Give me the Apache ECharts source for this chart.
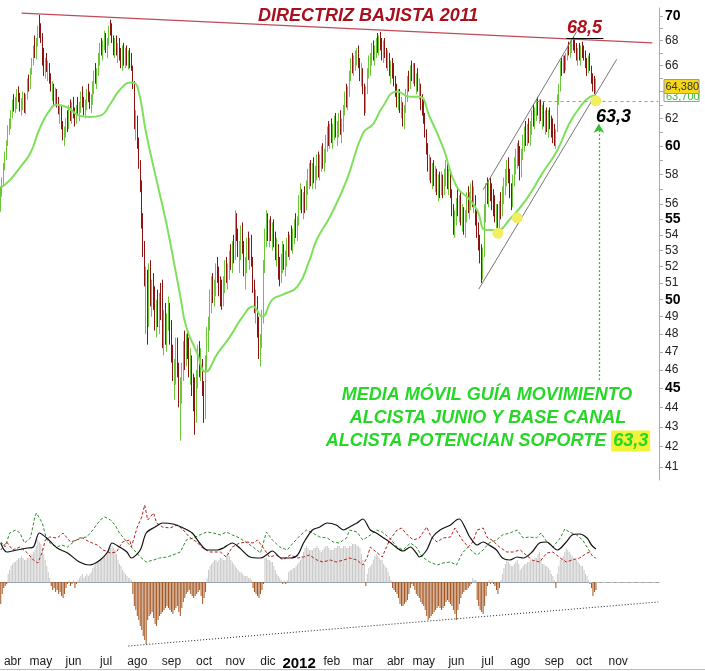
<!DOCTYPE html>
<html>
<head>
<meta charset="utf-8">
<title>Directriz bajista 2011</title>
<script src="https://cdn.jsdelivr.net/npm/echarts@6.0.0/dist/echarts.min.js"></script>
<style>
html,body{margin:0;padding:0;background:#ffffff;}
#chart{width:705px;height:671px;}
</style>
</head>
<body>
<div id="chart"></div>
<script>
// ---------- calendar (trading days) ----------
const firstDay = [2011, 2, 22];           // 22 mar 2011
const lastLabelDay = '2012-11-30';        // last month label shown: nov 2012
const holidays = ['2011-04-22','2011-04-25','2011-12-26','2012-04-06','2012-04-09','2012-05-01'];
const categoryCount = 444;
const monthNames = ['ene','feb','mar','abr','may','jun','jul','ago','sep','oct','nov','dic'];

// ---------- price axis ticks ----------
const yTickValues = [41,42,43,44,45,46,47,48,49,50,51,52,53,54,55,56,57,58,59,60,61,62,63,64,65,66,67,68,69,70];
const yLabelValues = [41,42,43,44,45,46,47,48,49,50,51,52,53,54,55,56,58,60,62,64,66,68,70];
const yBoldValues = [45,50,55,60,70];

// ---------- daily prices ----------
const firstOpen = 55.6;
const lows = [
 55.5,56.5,57.2,58.3,59.0,60.0,60.8,61.2,62.0,62.5,62.4,62.7,63.2,62.5,62.2,62.6,62.4,62.3,63.4,64.0,64.2,65.3,66.0,66.6,66.5,67.5,68.2,
 67.8,66.0,65.2,65.0,65.5,64.8,64.6,64.0,63.3,63.0,62.9,62.8,62.3,61.6,61.2,60.4,60.0,60.6,61.0,61.2,61.8,61.6,
 62.0,61.4,61.6,62.2,61.8,62.4,62.8,62.2,62.0,62.6,63.2,62.7,62.4,63.0,63.8,64.6,64.2,65.2,66.0,66.8,66.4,67.2,
 67.0,66.6,67.6,68.4,67.8,66.8,66.6,66.8,66.2,66.4,65.8,65.6,66.0,65.8,66.0,65.7,65.8,65.6,64.2,61.2,60.4,
 59.8,58.4,56.8,54.4,52.6,50.8,48.0,47.4,48.4,49.6,49.0,49.4,48.2,47.8,48.4,48.0,48.8,47.2,46.8,47.4,47.0,48.2,47.4,
 46.4,45.4,44.4,45.2,45.6,44.0,42.3,44.2,45.4,46.0,46.2,46.6,45.6,45.2,44.6,43.8,42.6,43.2,45.0,45.6,45.4,44.6,
 43.2,43.4,46.0,47.0,48.2,49.2,49.8,49.6,50.2,51.0,50.2,49.6,49.4,49.6,50.4,51.0,50.6,51.2,51.8,51.6,52.2,
 52.4,53.6,52.6,51.6,52.4,52.8,51.4,50.6,51.6,52.4,51.8,52.0,50.4,49.2,48.6,47.8,46.6,46.2,47.2,48.6,51.6,53.2,
 53.6,53.2,53.6,53.0,53.2,52.4,52.0,51.2,50.8,51.0,51.6,51.8,51.4,52.0,52.6,52.4,53.0,52.8,53.4,53.8,53.6,
 54.6,55.6,55.4,55.0,55.4,55.6,56.6,57.0,57.2,57.0,57.4,57.0,57.6,57.8,57.6,58.2,58.4,58.2,58.8,59.6,60.0,59.8,
 60.2,59.8,60.4,60.6,60.0,60.6,60.8,60.2,61.0,62.2,62.8,62.6,63.6,64.8,65.4,65.2,65.6,66.0,65.8,64.8,64.4,
 63.8,62.2,62.4,63.8,65.0,65.2,66.0,66.4,66.0,66.6,67.0,66.8,67.2,66.4,66.2,66.6,65.8,65.6,65.2,64.6,65.0,64.4,
 63.6,62.8,62.6,62.4,62.0,61.4,61.2,62.4,63.2,64.0,64.2,64.8,64.6,64.4,63.8,64.0,63.4,62.6,62.2,
 61.6,60.6,59.4,58.2,57.6,57.4,57.0,57.2,56.8,56.6,56.2,56.4,56.6,56.4,56.6,57.2,57.0,56.6,56.4,55.2,54.0,53.8,
 54.6,55.2,54.8,54.6,54.2,54.0,53.8,54.8,55.4,55.0,55.6,55.8,55.4,54.6,53.8,53.0,52.2,51.0,51.2,52.6,54.8,
 56.0,55.8,56.2,55.6,55.2,54.8,54.2,54.2,54.4,55.0,55.2,56.0,56.6,57.2,57.4,56.4,55.6,55.8,57.2,58.0,58.4,58.6,
 57.6,57.8,59.0,59.6,60.0,60.0,60.2,60.0,60.8,61.4,61.2,61.8,62.2,61.6,61.8,61.2,61.4,60.8,61.0,60.6,61.2,60.6,60.2,
 60.0,59.8,61.0,63.0,64.0,65.2,65.4,65.4,65.6,66.4,66.8,66.6,67.0,67.2,67.0,66.4,66.0,66.4,66.0,66.6,
 66.4,65.8,65.2,65.4,65.6,64.6,64.0,63.8,63.9
];
const highs = [
 57.2,57.8,58.8,59.6,60.4,61.5,62.0,62.6,63.4,63.8,63.6,64.2,64.4,63.9,63.5,64.0,63.9,63.8,65.0,65.3,65.8,66.6,67.6,68.4,68.2,69.2,70.1,
 69.4,68.6,67.4,66.6,67.0,66.4,66.2,65.4,64.8,64.6,64.3,64.2,63.6,63.0,62.9,61.8,61.4,62.0,62.6,63.0,63.4,63.2,
 63.6,62.8,63.0,63.6,63.2,64.0,64.4,63.6,63.4,64.2,64.6,64.0,63.8,64.8,65.6,66.2,65.8,67.0,67.8,68.2,68.0,68.8,
 68.6,68.2,69.2,69.7,69.4,68.4,68.2,68.4,67.8,68.2,67.4,67.6,67.8,67.4,67.6,67.2,67.4,67.0,66.0,64.8,62.6,
 62.2,60.6,59.0,57.6,55.4,53.6,52.0,51.8,52.2,52.4,51.2,51.6,50.8,50.0,50.6,50.4,51.0,51.2,49.4,49.8,49.2,50.2,49.8,
 48.8,47.4,46.6,47.8,47.8,46.4,45.6,46.4,47.6,48.2,48.0,48.2,47.8,47.2,46.8,45.8,45.6,46.0,47.4,47.6,47.2,46.6,
 45.4,46.8,48.4,49.0,50.6,51.4,51.6,51.2,52.2,52.6,52.0,51.4,51.2,51.4,52.4,52.6,52.2,53.0,53.4,53.6,54.0,
 55.6,55.4,54.4,53.6,54.6,54.8,53.6,52.6,53.8,54.2,53.8,54.0,52.6,51.2,50.6,50.2,49.0,48.0,49.4,52.4,54.4,55.6,
 55.4,55.0,55.2,54.8,55.0,54.2,53.8,53.4,52.6,52.8,53.6,53.4,53.0,53.8,54.2,54.0,54.6,54.4,55.0,55.4,55.2,
 56.6,57.4,57.0,56.8,57.2,57.6,58.4,58.8,59.0,58.8,59.2,58.6,59.4,59.6,59.4,60.0,60.2,59.8,60.8,61.4,61.8,61.6,
 62.0,61.6,62.2,62.4,61.8,62.4,62.6,62.0,63.0,64.0,64.6,64.4,65.6,66.6,67.0,66.8,67.2,67.4,67.6,66.6,66.2,
 65.8,64.6,64.4,65.8,66.8,67.0,67.8,68.0,67.6,68.2,68.6,68.4,68.7,68.2,68.0,68.2,67.4,67.2,67.0,66.4,66.6,66.2,
 65.2,64.6,64.2,64.2,63.6,63.2,63.0,64.2,65.2,65.6,66.0,66.4,66.2,66.2,65.4,65.8,65.0,64.6,63.8,
 63.4,62.4,61.2,60.2,59.4,59.2,58.8,59.0,58.6,58.4,58.0,58.2,58.2,58.0,58.4,59.0,58.8,58.4,58.2,57.0,56.0,55.6,
 56.4,57.0,56.6,56.8,56.0,55.8,55.6,56.8,57.2,56.8,57.4,57.6,57.2,56.6,55.6,54.8,54.0,53.4,53.2,56.0,57.4,
 57.8,57.6,57.8,57.4,57.0,56.6,56.0,56.0,56.2,56.8,57.2,57.8,58.4,59.0,59.2,58.4,57.4,58.0,59.2,59.8,60.2,60.4,
 60.0,59.8,60.8,61.4,61.8,61.6,62.0,61.8,62.6,63.0,62.8,63.4,63.6,63.4,63.4,63.0,63.2,62.6,62.8,62.6,62.8,62.2,62.0,
 61.6,61.2,63.8,64.6,66.4,66.6,66.8,66.8,67.0,67.6,67.9,68.0,68.2,68.3,68.2,67.8,67.4,67.8,67.6,67.9,
 67.6,67.2,66.6,66.8,67.0,66.0,65.4,65.2,65.0
];
const closes = [
 56.8,57.5,58.6,59.4,60.1,61.2,61.6,62.4,63.1,62.9,63.3,63.9,63.5,62.8,63.2,63.8,62.7,63.6,64.8,64.3,65.6,66.4,67.4,67.0,68.0,69.0,68.6,
 68.2,66.4,65.8,66.3,65.8,66.0,64.9,64.4,64.5,63.4,64.0,63.0,62.6,62.8,61.5,60.8,61.2,61.8,61.4,62.8,62.1,63.0,
 62.4,61.8,62.7,62.5,63.0,63.6,63.1,62.5,63.2,63.9,63.5,62.9,63.6,64.6,65.4,64.9,65.6,66.8,67.5,67.0,67.8,68.4,
 67.3,68.0,69.0,68.8,68.0,67.2,67.9,67.0,67.5,66.6,66.1,67.3,66.3,67.1,66.2,66.9,66.0,65.8,64.6,61.6,62.2,
 60.2,58.8,57.2,55.0,53.2,51.2,51.4,48.2,51.6,50.0,50.8,49.8,49.0,49.6,48.8,50.0,49.2,47.6,49.0,47.8,48.8,49.6,47.8,
 46.8,45.8,46.2,47.4,46.0,44.4,45.2,46.0,47.2,46.6,47.6,47.0,46.2,46.8,45.0,44.2,43.0,45.6,47.0,46.0,46.8,45.0,
 43.6,46.4,48.0,48.6,50.2,51.0,50.2,50.8,51.8,51.2,50.6,50.0,49.8,51.0,52.0,51.4,51.8,52.6,52.2,53.2,52.6,
 55.0,54.0,52.9,53.2,54.2,53.2,51.8,52.2,53.4,52.8,53.4,52.4,50.8,49.6,50.2,48.2,47.0,47.6,49.0,52.0,54.0,54.6,
 54.0,54.6,53.9,54.4,53.5,52.8,53.4,51.6,51.2,52.4,53.2,52.2,52.6,53.4,53.0,53.6,53.4,54.0,54.6,54.2,54.8,
 56.2,56.8,55.8,56.4,55.8,57.2,58.0,58.4,57.6,58.4,57.8,58.2,59.0,58.2,59.0,59.6,58.8,59.4,60.4,61.0,60.4,61.2,
 60.6,61.2,61.8,60.9,61.4,62.0,61.2,61.6,62.6,63.6,63.2,64.0,65.2,66.2,65.8,66.4,66.8,67.0,66.2,65.0,65.8,
 64.2,62.6,64.0,65.4,65.6,66.6,67.4,66.8,67.2,67.8,67.4,68.0,67.6,66.8,67.6,67.0,66.2,66.8,65.6,66.0,65.4,64.8,
 63.9,63.2,63.8,62.8,63.2,61.8,62.6,63.8,64.8,64.4,65.6,65.2,65.8,64.8,65.0,64.4,64.6,63.0,62.5,
 61.9,60.9,59.8,58.6,59.0,57.8,58.4,57.6,58.2,56.9,57.6,56.8,57.8,56.8,58.0,58.6,57.4,58.0,56.8,55.6,54.4,55.2,
 56.0,55.6,56.2,55.0,55.6,54.4,55.2,56.4,55.8,56.4,57.0,56.2,56.8,55.0,54.2,53.4,52.6,51.4,52.8,55.6,57.0,
 56.4,57.2,56.6,56.0,55.6,55.0,55.6,54.6,55.8,55.4,56.8,57.4,58.0,58.6,57.8,56.8,56.0,57.6,58.8,59.4,59.8,59.0,
 58.0,59.4,60.4,61.0,60.4,61.2,60.6,61.4,62.2,61.8,62.4,63.0,62.6,63.0,62.2,62.6,61.8,62.2,61.4,62.2,61.6,61.0,60.6,
 60.4,61.0,63.6,64.2,66.0,65.6,66.4,65.6,66.8,67.4,67.2,67.8,68.0,67.8,67.6,66.8,67.0,66.6,67.4,67.2,
 66.6,66.0,65.4,66.4,65.8,64.9,64.2,64.0,64.38
];

// moving average, read at [day index, price]
const maPoints = [
 [0,57.1],[6,57.6],[13,58.5],[20,59.5],[26,61.2],[33,62.6],[38,63.0],[45,62.8],[53,62.2],[60,62.1],
 [67,62.2],[74,63.1],[80,64.1],[88,64.7],[92,64.4],[98,60.9],[105,57.6],[111,55.0],[115,53.1],[121,50.2],
 [125,48.4],[132,47.0],[138,45.9],[146,46.9],[154,47.8],[163,49.0],[170,49.6],[176,49.0],[183,50.0],[190,50.3],
 [200,50.8],[208,52.4],[213,53.7],[222,55.2],[233,57.6],[244,60.9],[251,61.6],[257,62.8],[267,64.0],[276,63.6],
 [282,63.6],[289,62.1],[298,59.9],[307,57.2],[316,56.3],[321,55.6],[327,54.3],[334,54.3],[343,55.0],[354,56.3],
 [365,58.1],[375,59.7],[383,61.6],[390,62.8],[397,63.6],[401,63.7]
];
const signalPoints = [[335,54.1],[348,55.1],[401,63.3]];
const supportLevel = 63.3;

// ---------- lower panel indicator ----------
const histogram = [
 -11,-6,-3,-2,-1,
 4,6,8,9,10,10,11,12,12,13,12,11,11,12,12,13,14,15,16,18,21,20,19,17,14,11,8,5,2,
 -2,-4,-3,-5,-4,-6,-5,-7,-8,-6,-3,-1,1,-2,-1,1,-3,-1,1,2,
 3,4,2,3,4,3,4,
 5,7,8,9,10,10,11,12,12,13,14,15,16,17,18,17,16,14,11,9,8,6,5,4,3,2,2,1,
 -6,-12,-14,-17,-19,-22,-24,-27,-29,-31,-19,-17,-16,-15,-18,-21,-22,-19,-17,-16,
 -15,-14,-13,-12,-13,-14,-15,-16,-14,-13,-12,-15,-17,-13,-10,-8,-6,-5,-4,-6,
 -7,-8,-7,-6,-5,-4,-7,-11,-8,-5,
 2,6,8,9,10,11,11,10,11,12,12,11,11,13,15,13,11,10,9,8,7,6,5,5,4,3,3,3,2,2,1,
 -3,-5,-6,-7,-8,-6,-4,-1,
 12,12,11,11,10,10,8,6,4,3,2,
 1,-1,1,-1,1,
 5,6,6,7,7,8,9,10,11,13,15,17,18,17,16,16,16,17,17,18,17,16,15,16,17,18,18,17,16,16,16,17,17,18,18,17,17,18,18,17,17,18,
 18,19,19,19,18,18,17,14,11,9,-2,4,
 7,8,9,11,13,14,13,12,11,11,9,8,7,5,3,1,
 -3,-4,-5,-6,-8,-11,-12,-12,-11,-10,-9,-6,-3,-1,
 -2,-4,-6,-7,-8,-10,-11,-12,-14,-17,-19,-18,-17,-16,-15,-14,-13,-12,-13,-14,
 -13,-12,-10,-9,-10,-11,-12,-14,-16,-19,-14,-11,-8,-6,-5,-4,-4,-3,-2,-1,
 2,1,1,
 -9,-12,-14,-15,-16,-12,-7,-2,
 1,-1,1,-1,-2,-4,-6,-3,
 1,4,7,9,11,10,9,8,8,9,10,11,9,6,7,8,9,9,10,10,11,11,11,12,12,14,15,12,9,9,8,8,7,6,4,3,1,-3,
 4,8,11,12,13,15,17,16,15,14,13,12,11,11,10,9,8,8,6,4,3,1,
 -1,-3,-7,-5,-4
];
const adxPoints = [
 [0,19.5],[4,15],[11,16],[18,17],[22,17.5],[26,24.5],[31,22],[38,17],[45,14.5],[53,10],[60,8.5],[67,11],
 [72,15],[75,19.5],[80,17.5],[85,15],[88,12],[94,16],[98,24.5],[104,27.5],[109,29.5],[116,29],[123,27],
 [129,24.5],[134,19.5],[139,16],[146,16],[150,17],[156,19.5],[161,17],[168,12.5],[175,12],[179,13.5],
 [183,15.5],[189,12],[195,12],[200,13.5],[204,19.5],[210,26],[215,27.5],[220,29.5],[226,28.5],[231,26],
 [235,27.5],[240,29.5],[244,31.5],[249,26],[253,24.5],[257,22.5],[262,20],[267,17],[271,15.5],[276,17.5],
 [280,14.5],[282,12.5],[287,16],[291,22.5],[296,26],[303,28.5],[307,31],[309,31.5],[313,27],[316,22.5],
 [321,18.5],[325,20],[329,18.5],[334,16],[338,12],[343,11],[348,12.5],[352,12],[358,15],[363,19.5],
 [368,20],[372,17.5],[375,16],[381,20],[385,23.5],[390,24],[395,22],[398,18.5],[401,16.5]
];
const diPlusPoints = [
 [0,20],[3,17.5],[6,24.5],[10,26],[13,24.5],[16,19.5],[20,22],[23,32.5],[24,34.5],[28,29.5],[31,21],
 [35,18.5],[38,17.5],[41,18.5],[45,17.5],[49,20],[53,22],[58,22.5],[62,26],[67,31],[70,32.5],[74,31],
 [77,28.5],[80,24.5],[85,20],[88,17.5],[94,12.5],[98,10],[103,11],[107,12],[112,12.5],[116,13.5],
 [121,15],[125,21],[130,22],[134,23.5],[139,25],[143,24.5],[148,23.5],[152,25],[156,23.5],[161,22],
 [166,19.5],[170,17.5],[175,14.5],[179,25],[183,21],[188,17.5],[193,16],[197,19.5],[202,23.5],[206,26],
 [210,24.5],[215,22.5],[220,22],[224,20],[228,19.5],[233,22],[235,26],[240,25],[244,21],[249,23.5],
 [253,26],[257,25],[262,22],[267,17.5],[271,16],[276,19.5],[280,17.5],[284,12.5],[289,10],[294,8.5],
 [298,9.5],[303,10],[307,8.5],[311,14.5],[315,17.5],[318,15],[321,13.5],[325,16],[329,19.5],[334,21],
 [338,23.5],[343,24.5],[348,26],[352,22],[356,22.5],[361,22],[364,24.5],[368,20],[372,17.5],[377,22],
 [380,26.5],[383,25],[388,23.5],[392,21],[395,17.5],[399,12.5],[401,12]
];
const diMinusPoints = [
 [0,16],[4,20],[8,16],[13,17.5],[18,14.5],[22,11],[25,9.5],[28,15],[30,21],[33,22.5],[38,22],[42,24.5],
 [47,20],[51,21],[55,22],[60,20],[65,18.5],[69,16],[74,14.5],[78,15],[82,20],[87,21],[88,17.5],[92,27.5],
 [95,32.5],[97,38.5],[99,31],[103,34.5],[105,29.5],[109,27.5],[114,27],[119,28.5],[123,26],[127,22.5],
 [132,20],[136,17],[141,15],[148,15],[152,12.5],[156,17.5],[161,19.5],[166,20],[170,19.5],[173,21],
 [177,17],[181,12.5],[186,13.5],[190,11],[195,13.5],[200,12],[204,12.5],[208,13.5],[213,11],[217,10],
 [222,11],[226,10],[231,11],[235,12],[240,11],[244,8.5],[247,12.5],[249,17.5],[253,15],[257,12.5],
 [262,21],[267,26],[270,27],[274,23.5],[278,21],[282,22],[287,27.5],[290,22.5],[294,20],[298,22],
 [303,22.5],[306,27],[308,24.5],[311,21],[315,17.5],[318,20],[321,26],[325,27],[328,22],[331,21],
 [336,17.5],[341,15],[345,15],[350,16],[354,13.5],[358,11],[363,10],[368,14.5],[372,15],[377,12],
 [381,10],[385,11],[390,12],[395,14.5],[398,15]
];

// ---------- build ----------
function buildDates() {
  const out = [];
  const d = new Date(Date.UTC(firstDay[0], firstDay[1], firstDay[2]));
  while (out.length < categoryCount) {
    const wd = d.getUTCDay();
    const s = d.toISOString().slice(0, 10);
    if (wd !== 0 && wd !== 6 && holidays.indexOf(s) < 0) out.push(s);
    d.setUTCDate(d.getUTCDate() + 1);
  }
  return out;
}
const dates = buildDates();
const monthStart = dates.map((s, i) => i > 0 && s.slice(5, 7) !== dates[i - 1].slice(5, 7) && s <= lastLabelDay);
const candles = closes.map((c, i) => [i === 0 ? firstOpen : closes[i - 1], c, lows[i], highs[i]]);
const lastIndex = closes.length - 1;
const FONT = '"Liberation Sans", Arial, sans-serif';

const chart = echarts.init(document.getElementById('chart'), null, { renderer: 'canvas' });

const option = {
  animation: false,
  backgroundColor: '#ffffff',
  grid: [
    { left: 0, top: 8, width: 659, height: 472 },
    { left: 0, top: 490, width: 659, height: 160 }
  ],
  xAxis: [
    { type: 'category', gridIndex: 0, data: dates, boundaryGap: true, show: false },
    {
      type: 'category', gridIndex: 1, data: dates, boundaryGap: true,
      axisLine: { lineStyle: { color: '#9aa5b0', width: 1 } },
      axisTick: { inside: true, length: 4, alignWithLabel: true, interval: (i) => monthStart[i], lineStyle: { color: '#9aa5b0' } },
      axisLabel: {
        interval: (i) => monthStart[i],
        margin: 6, color: '#1a1a1a', fontSize: 12, fontFamily: FONT,
        formatter: (v) => {
          const m = parseInt(v.slice(5, 7), 10) - 1;
          return m === 0 ? '{y|' + v.slice(0, 4) + '}' : monthNames[m];
        },
        rich: { y: { fontWeight: 'bold', fontSize: 15, fontFamily: FONT, color: '#000' } }
      },
      splitLine: { show: false }
    }
  ],
  yAxis: [
    {
      type: 'log', gridIndex: 0, position: 'right', logBase: 10,
      min: 40.37, max: 70.67,
      axisLine: { show: true, lineStyle: { color: '#a4acb4' } },
      axisTick: { show: true, length: 4, customValues: yTickValues, lineStyle: { color: '#a4acb4' } },
      axisLabel: {
        customValues: yLabelValues, margin: 6, color: '#222', fontSize: 12, fontFamily: FONT,
        formatter: (v) => {
          const n = Math.round(v);
          return yBoldValues.indexOf(n) >= 0 ? '{b|' + n + '}' : String(n);
        },
        rich: { b: { fontWeight: 'bold', fontSize: 14, fontFamily: FONT, color: '#000' } }
      },
      splitLine: { show: false }
    },
    { type: 'value', gridIndex: 1, min: -34, max: 46, show: false, splitLine: { show: false } }
  ],
  series: [
    {
      type: 'candlestick', name: 'precio', xAxisIndex: 0, yAxisIndex: 0,
      data: candles, barWidth: 1,
      itemStyle: { color: '#6cc63a', color0: '#8c1410', borderColor: '#6cc63a', borderColor0: '#8c1410', borderWidth: 1 },
      markLine: {
        silent: true, symbol: 'none', label: { show: false },
        data: [
          [{ coord: [14, 70.25], lineStyle: { color: '#c04a58', width: 1.3, type: 'solid' } }, { coord: [439, 67.8] }],
          [{ coord: [325, 56.96], lineStyle: { color: '#777', width: 1, type: 'solid' } }, { coord: [388, 68.72] }],
          [{ coord: [322, 50.62], lineStyle: { color: '#777', width: 1, type: 'solid' } }, { coord: [415, 66.5] }],
          [{ coord: [381, 68.2], lineStyle: { color: '#000', width: 1.2, type: 'solid' } }, { coord: [406, 68.2] }],
          [{ coord: [361, supportLevel], lineStyle: { color: '#999', width: 1, type: [3, 3] } }, { coord: [443, supportLevel] }],
          [{ coord: [403, 45.45], symbol: 'none', lineStyle: { color: '#2fbf2f', width: 1.2, type: [2, 2] } },
           { coord: [403, 61.6], symbol: 'arrow', symbolSize: [8, 9] }]
        ]
      }
    },
    {
      type: 'line', name: 'media', xAxisIndex: 0, yAxisIndex: 0, data: maPoints,
      smooth: 0.5, symbol: 'none', lineStyle: { color: '#7fe05c', width: 2 }, z: 3
    },
    {
      type: 'scatter', name: 'apoyos', xAxisIndex: 0, yAxisIndex: 0, data: signalPoints,
      symbolSize: 11, itemStyle: { color: '#f1ee62', opacity: 1 }, z: 5
    },
    {
      type: 'bar', name: 'histograma', xAxisIndex: 1, yAxisIndex: 1, data: histogram,
      barWidth: 1, itemStyle: { color: (p) => (p.value >= 0 ? '#c8c8c8' : '#a3541e') },
      markLine: {
        silent: true, symbol: 'none', label: { show: false },
        data: [
          [{ coord: [86, -32], lineStyle: { color: '#222', width: 1, type: [1, 2] } }, { coord: [443, -10] }],
          [{ coord: [396, 0], lineStyle: { color: '#bbb', width: 1, type: [4, 3] } }, { coord: [443, 0] }]
        ]
      }
    },
    {
      type: 'line', name: 'ADX', xAxisIndex: 1, yAxisIndex: 1, data: adxPoints,
      smooth: 0.3, symbol: 'none', lineStyle: { color: '#111', width: 1.2 }, z: 4
    },
    {
      type: 'line', name: 'DI+', xAxisIndex: 1, yAxisIndex: 1, data: diPlusPoints,
      symbol: 'none', lineStyle: { color: '#2e8b2e', width: 1, type: [3, 2] }, z: 3
    },
    {
      type: 'line', name: 'DI-', xAxisIndex: 1, yAxisIndex: 1, data: diMinusPoints,
      symbol: 'none', lineStyle: { color: '#b52020', width: 1, type: [3, 2] }, z: 3
    }
  ],
  graphic: [
    { type: 'text', x: 258, y: 7, z: 10, style: { text: 'DIRECTRIZ BAJISTA 2011', fontSize: 18, fontWeight: 'bold', fontStyle: 'italic', fontFamily: FONT, fill: '#a8101e' } },
    { type: 'text', x: 567, y: 19, z: 10, style: { text: '68,5', fontSize: 18, fontWeight: 'bold', fontStyle: 'italic', fontFamily: FONT, fill: '#b0101c' } },
    { type: 'text', x: 596, y: 108, z: 10, style: { text: '63,3', fontSize: 18, fontWeight: 'bold', fontStyle: 'italic', fontFamily: FONT, fill: '#000' } },
    { type: 'text', x: 487, y: 395, z: 10, style: { text: 'MEDIA MÓVIL GUÍA MOVIMIENTO', align: 'center', verticalAlign: 'middle', fontSize: 18, fontWeight: 'bold', fontStyle: 'italic', fontFamily: FONT, fill: '#26d826' } },
    { type: 'text', x: 488, y: 418, z: 10, style: { text: 'ALCISTA JUNIO Y BASE CANAL', align: 'center', verticalAlign: 'middle', fontSize: 18, fontWeight: 'bold', fontStyle: 'italic', fontFamily: FONT, fill: '#26d826' } },
    { type: 'text', x: 488, y: 441, z: 10, style: {
        text: '{a|ALCISTA POTENCIAN SOPORTE }{h|63,3}', align: 'center', verticalAlign: 'middle',
        rich: {
          a: { fontSize: 18, fontWeight: 'bold', fontStyle: 'italic', fontFamily: FONT, fill: '#26d826', color: '#26d826' },
          h: { fontSize: 18, fontWeight: 'bold', fontStyle: 'italic', fontFamily: FONT, fill: '#26d826', color: '#26d826', backgroundColor: '#f2f23a', padding: [2, 2, 1, 2] }
        } } },
    { type: 'line', z: 10, shape: { x1: 0, y1: 669.5, x2: 705, y2: 669.5 }, style: { stroke: '#b4bcc4', lineWidth: 1 } }
  ]
};
chart.setOption(option);

// value boxes on the price axis, positioned through the axis scale
const yClose = chart.convertToPixel({ yAxisIndex: 0 }, closes[lastIndex]);
const lastMa = maPoints[maPoints.length - 1][1];
const yMa = chart.convertToPixel({ yAxisIndex: 0 }, lastMa);
chart.setOption({
  graphic: option.graphic.concat([
    { type: 'rect', z: 20, shape: { x: 664, y: Math.round(yMa) - 5.5, width: 35, height: 11 }, style: { fill: '#ffffff', stroke: '#9a9a9a', lineWidth: 1 } },
    { type: 'text', z: 21, x: 666, y: Math.round(yMa) - 5, style: { text: lastMa.toFixed(3).replace('.', ','), fontSize: 11, fontFamily: FONT, fill: '#3cb83c' } },
    { type: 'rect', z: 22, shape: { x: 664, y: Math.round(yClose) - 7.5, width: 35, height: 14 }, style: { fill: '#f6d816', stroke: '#9a9a9a', lineWidth: 1 } },
    { type: 'text', z: 23, x: 665.5, y: Math.round(yClose) - 6, style: { text: closes[lastIndex].toFixed(3).replace('.', ','), fontSize: 11, fontFamily: FONT, fill: '#333' } }
  ])
});
</script>
</body>
</html>
